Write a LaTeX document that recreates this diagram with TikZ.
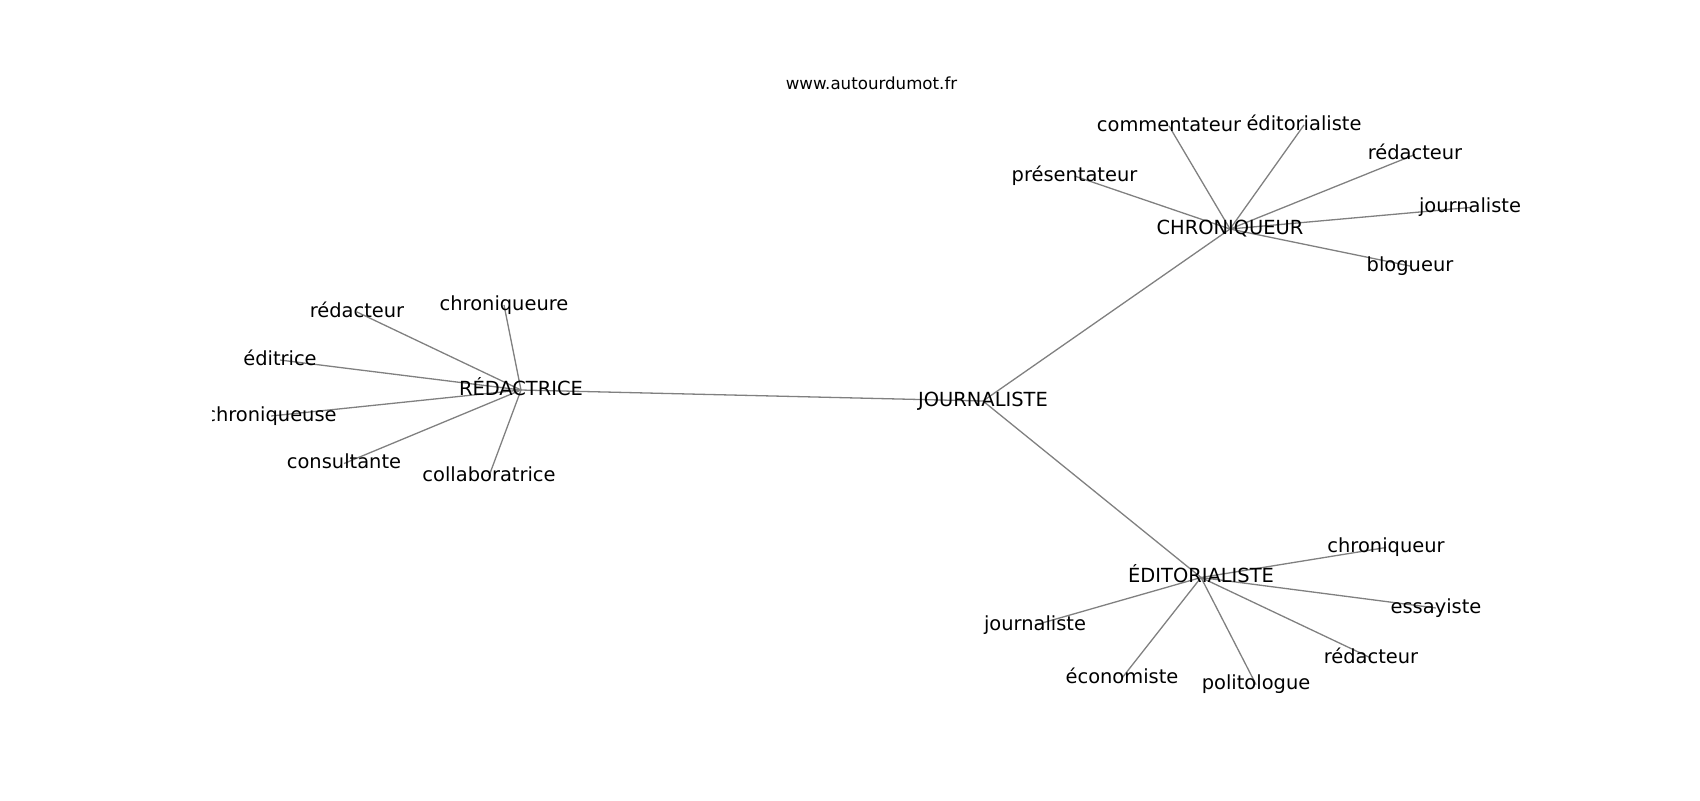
\documentclass[tikz,border=0pt]{standalone}
\usepackage{fontspec}
\setmainfont{DejaVu Sans}
\usepackage{tikz}

\pgfdeclarelayer{edges}
\pgfsetlayers{edges,main}

\tikzset{
  word/.style={inner sep=0pt, text height=7.4pt, text depth=2pt,
    font=\fontsize{9.72}{11.5}\selectfont},
  link/.style={draw=gray, line width=0.65pt},
}

\begin{document}
\begin{tikzpicture}[x=0.5pt, y=-0.5pt]
\useasboundingbox (0,0) rectangle (1700,800);
\node[anchor=base, font=\fontsize{8.33}{10}\selectfont] (TT) at (871.5,89) {www.autourdumot.fr};

\begin{scope}
\clip (212.5,96) rectangle (1530,712);
\node[word] (JO) at (983,401) {JOURNALISTE};
\node[word] (RD) at (521,390) {RÉDACTRICE};
\node[word] (CH) at (1230,229) {CHRONIQUEUR};
\node[word] (ED) at (1201,577.5) {ÉDITORIALISTE};

% redactrice
\node[word] (RA) at (357,312) {rédacteur};
\node[word] (RB) at (504,305) {chroniqueure};
\node[word] (RC) at (280,360) {éditrice};
\node[word] (RE) at (271,416) {chroniqueuse};
\node[word] (RF) at (344,463.5) {consultante};
\node[word] (RG) at (489,476) {collaboratrice};

% chroniqueur
\node[word] (CA) at (1074.5,176) {présentateur};
\node[word] (CB) at (1169,126) {commentateur};
\node[word] (CC) at (1304,125) {éditorialiste};
\node[word] (CE) at (1415,154.5) {rédacteur};
\node[word] (CF) at (1470,207.5) {journaliste};
\node[word] (CG) at (1410,266) {blogueur};

% editorialiste
\node[word] (EA) at (1386,547.5) {chroniqueur};
\node[word] (EB) at (1436,608) {essayiste};
\node[word] (EC) at (1371,658) {rédacteur};
\node[word] (EE) at (1256,684.5) {politologue};
\node[word] (EF) at (1122,678) {économiste};
\node[word] (EG) at (1035,625) {journaliste};
\end{scope}

\begin{pgfonlayer}{edges}
\draw[link] (JO.center) -- (RD.center);
\draw[link] (JO.center) -- (CH.center);
\draw[link] (JO.center) -- (ED.center);

\draw[link] (RD.center) -- (RA.center);
\draw[link] (RD.center) -- (RB.center);
\draw[link] (RD.center) -- (RC.center);
\draw[link] (RD.center) -- (RE.center);
\draw[link] (RD.center) -- (RF.center);
\draw[link] (RD.center) -- (RG.center);

\draw[link] (CH.center) -- (CA.center);
\draw[link] (CH.center) -- (CB.center);
\draw[link] (CH.center) -- (CC.center);
\draw[link] (CH.center) -- (CE.center);
\draw[link] (CH.center) -- (CF.center);
\draw[link] (CH.center) -- (CG.center);

\draw[link] (ED.center) -- (EA.center);
\draw[link] (ED.center) -- (EB.center);
\draw[link] (ED.center) -- (EC.center);
\draw[link] (ED.center) -- (EE.center);
\draw[link] (ED.center) -- (EF.center);
\draw[link] (ED.center) -- (EG.center);
\end{pgfonlayer}
\end{tikzpicture}
\end{document}
